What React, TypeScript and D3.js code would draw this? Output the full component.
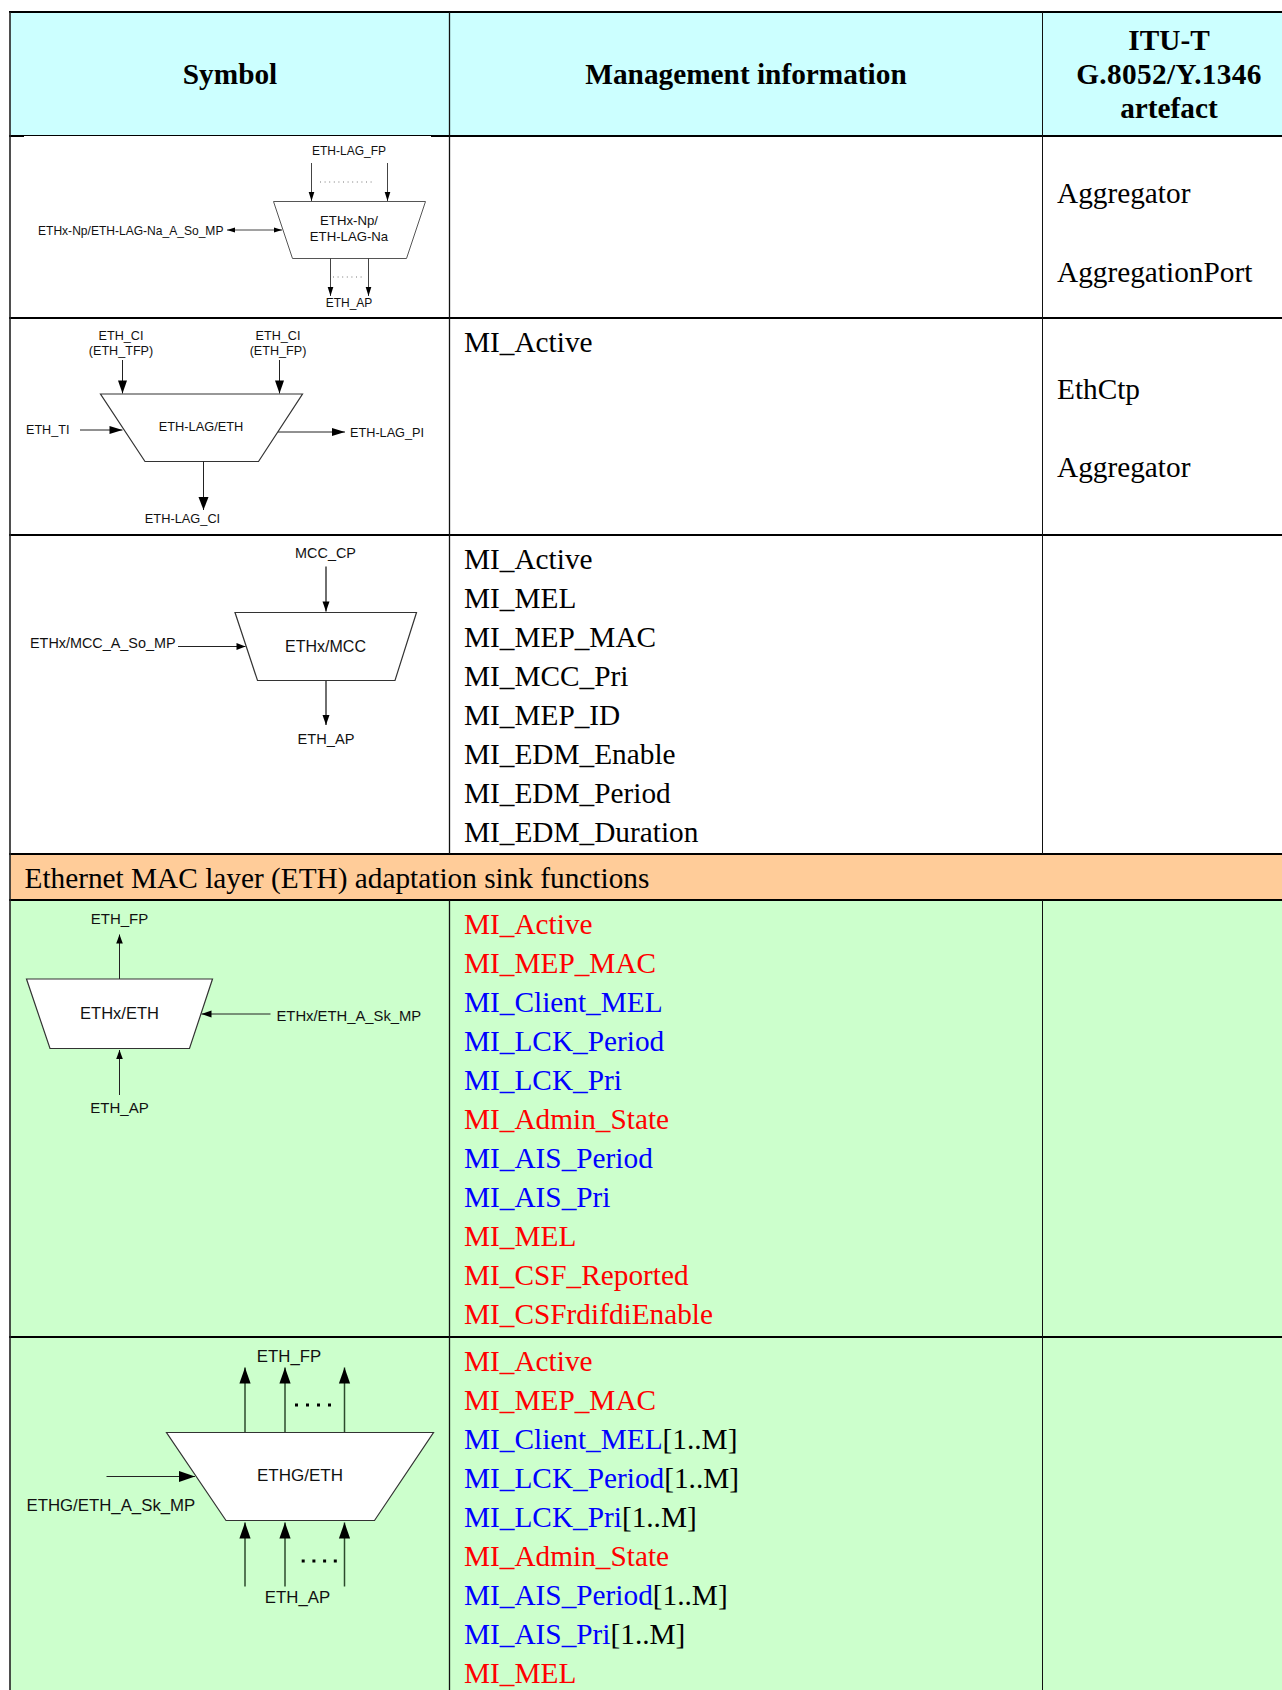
import React, { useEffect, useRef } from 'react';
import * as d3 from 'd3';

// Table content
const headerSymbol = 'Symbol';
const headerInfo = 'Management information';
const headerArtefact = ['ITU-T', 'G.8052/Y.1346', 'artefact'];
const lagArtefacts = ['Aggregator', 'AggregationPort'];
const ethLagArtefacts = ['EthCtp', 'Aggregator'];
const ethLagInfo = ['MI_Active'];
const mccInfo = ['MI_Active', 'MI_MEL', 'MI_MEP_MAC', 'MI_MCC_Pri', 'MI_MEP_ID', 'MI_EDM_Enable', 'MI_EDM_Period', 'MI_EDM_Duration'];
const sinkBand = 'Ethernet MAC layer (ETH) adaptation sink functions';
const ethxInfo = ['MI_Active', 'MI_MEP_MAC', 'MI_Client_MEL', 'MI_LCK_Period', 'MI_LCK_Pri', 'MI_Admin_State', 'MI_AIS_Period', 'MI_AIS_Pri', 'MI_MEL', 'MI_CSF_Reported', 'MI_CSFrdifdiEnable'];
const ethxKinds = ['a', 'a', 'b', 'b', 'b', 'a', 'b', 'b', 'a', 'a', 'a'];
const ethgInfo = ['MI_Active', 'MI_MEP_MAC', 'MI_Client_MEL', 'MI_LCK_Period', 'MI_LCK_Pri', 'MI_Admin_State', 'MI_AIS_Period', 'MI_AIS_Pri', 'MI_MEL'];
const ethgKinds = ['a', 'a', 'b', 'b', 'b', 'a', 'b', 'b', 'a'];
const ethgSuffix = ['', '', '[1..M]', '[1..M]', '[1..M]', '', '[1..M]', '[1..M]', ''];

const WIDTH = 1282;
const HEIGHT = 1690;
const SERIF = '"Liberation Serif", serif';
const SANS = '"Liberation Sans", Arial, sans-serif';

type Sel = d3.Selection<SVGGElement, unknown, null, undefined>;
type Pt = [number, number];

const path = d3.line();

function arrow(g: Sel, from: Pt, to: Pt, len: number, half: number, color = '#222', width = 1, both = false) {
  g.append('path').attr('d', path([from, to])).attr('stroke', color).attr('stroke-width', width).attr('fill', 'none');
  const head = (a: Pt, b: Pt) => {
    const d = Math.hypot(b[0] - a[0], b[1] - a[1]);
    const ux = (b[0] - a[0]) / d;
    const uy = (b[1] - a[1]) / d;
    const bx = b[0] - ux * len;
    const by = b[1] - uy * len;
    g.append('path')
      .attr('d', path([b, [bx - uy * half, by + ux * half], [bx + uy * half, by - ux * half]])! + 'Z')
      .attr('fill', '#000');
  };
  head(from, to);
  if (both) head(to, from);
}

function trapezoid(g: Sel, top: [number, number], bottom: [number, number], y0: number, y1: number, color = '#333', width = 1.2) {
  const pts: Pt[] = [[top[0], y0], [top[1], y0], [bottom[1], y1], [bottom[0], y1]];
  g.append('path')
    .attr('d', path(pts)! + 'Z')
    .attr('fill', '#fff')
    .attr('stroke', color)
    .attr('stroke-width', width);
}

function label(g: Sel, text: string, x: number, y: number, size: number, anchor = 'middle', color = '#111') {
  g.append('text')
    .attr('x', x)
    .attr('y', y)
    .attr('text-anchor', anchor)
    .attr('font-family', SANS)
    .attr('font-size', size)
    .attr('fill', color)
    .text(text);
}

function serif(g: Sel, text: string, x: number, y: number, anchor = 'start', bold = false, color = '#000') {
  return g.append('text')
    .attr('x', x)
    .attr('y', y)
    .attr('text-anchor', anchor)
    .attr('font-family', SERIF)
    .attr('font-size', 29.3)
    .attr('font-weight', bold ? 700 : 400)
    .attr('fill', color)
    .text(text);
}

function infoList(g: Sel, names: string[], first: number, kinds?: string[], suffix?: string[]) {
  const y = d3.scaleLinear().domain([0, 1]).range([first, first + 39]);
  const colour = d3.scaleOrdinal<string>().domain(['a', 'b']).range(['#ff0000', '#0000ff']);
  names.forEach((name, i) => {
    const t = serif(g, name, 464, y(i), 'start', false, kinds ? colour(kinds[i]) : '#000');
    if (suffix && suffix[i]) t.append('tspan').attr('fill', '#000').text(suffix[i]);
  });
}

function lagSymbol(g: Sel) {
  label(g, 'ETH-LAG_FP', 349, 155, 12);
  arrow(g, [311.5, 163], [311.5, 201], 9, 2.8, '#444');
  arrow(g, [387.5, 163], [387.5, 201], 9, 2.8, '#444');
  g.append('path').attr('d', path([[320, 182], [375, 182]])).attr('stroke', '#777').attr('stroke-dasharray', '1 3.6').attr('fill', 'none');
  trapezoid(g, [273.5, 425.5], [292.5, 406.5], 201.5, 258.5, '#555', 1);
  label(g, 'ETHx-Np/', 349, 225, 13.2);
  label(g, 'ETH-LAG-Na', 349, 241, 13.2);
  label(g, 'ETHx-Np/ETH-LAG-Na_A_So_MP', 38, 235, 12.05, 'start');
  arrow(g, [227, 230], [282, 230], 8, 2.5, '#444', 1, true);
  arrow(g, [330.5, 258], [330.5, 296], 9, 2.8, '#444');
  arrow(g, [368.5, 258], [368.5, 296], 9, 2.8, '#444');
  g.append('path').attr('d', path([[333, 277], [364, 277]])).attr('stroke', '#777').attr('stroke-dasharray', '1 3.6').attr('fill', 'none');
  label(g, 'ETH_AP', 349, 307, 12);
}

function ethLagSymbol(g: Sel) {
  label(g, 'ETH_CI', 121, 339.5, 12.6);
  label(g, '(ETH_TFP)', 121, 354.5, 12.6);
  label(g, 'ETH_CI', 278, 339.5, 12.6);
  label(g, '(ETH_FP)', 278, 354.5, 12.6);
  arrow(g, [122.5, 360], [122.5, 393.5], 13, 4.5);
  arrow(g, [279.5, 360], [279.5, 393.5], 13, 4.5);
  trapezoid(g, [100.5, 302.5], [145, 258.5], 394, 461.5);
  label(g, 'ETH-LAG/ETH', 201, 430.5, 12.8);
  label(g, 'ETH_TI', 26, 434, 12.6, 'start');
  arrow(g, [80, 430], [122.5, 430], 13, 4);
  arrow(g, [278, 432], [345, 432], 13, 4);
  label(g, 'ETH-LAG_PI', 350, 436.5, 12.7, 'start');
  arrow(g, [203.5, 461.5], [203.5, 510], 13, 5);
  label(g, 'ETH-LAG_CI', 182.5, 522.5, 12.8);
}

function mccSymbol(g: Sel) {
  label(g, 'MCC_CP', 325.5, 558, 14.4);
  arrow(g, [326, 566.5], [326, 611.5], 10, 3.5, '#333', 1.4);
  trapezoid(g, [235, 416.5], [257.5, 395], 612.5, 680.5);
  label(g, 'ETHx/MCC', 325.5, 652, 16);
  label(g, 'ETHx/MCC_A_So_MP', 30, 647.5, 14.4, 'start');
  arrow(g, [178, 646.5], [245.5, 646.5], 9, 3.5);
  arrow(g, [326, 680.5], [326, 725], 10, 3.5, '#333', 1.4);
  label(g, 'ETH_AP', 326, 744, 14.6);
}

function ethxSymbol(g: Sel) {
  label(g, 'ETH_FP', 119.5, 923.5, 15);
  arrow(g, [119.5, 979], [119.5, 934.5], 9, 3.3);
  trapezoid(g, [26.5, 212.5], [50, 189.5], 979, 1048.5);
  label(g, 'ETHx/ETH', 119.5, 1019, 16.5);
  arrow(g, [270.5, 1014], [201.5, 1014], 10, 3.5);
  label(g, 'ETHx/ETH_A_Sk_MP', 276.5, 1020.5, 14.8, 'start');
  arrow(g, [119.5, 1095], [119.5, 1050], 9, 3.3);
  label(g, 'ETH_AP', 119.5, 1113, 15);
}

function ethgSymbol(g: Sel) {
  [245, 285, 344.5].forEach(x => {
    arrow(g, [x, 1432], [x, 1367.5], 16, 5.6, '#2d4a2d', 1.5);
    arrow(g, [x, 1586.5], [x, 1522.5], 16, 5.6, '#2d4a2d', 1.5);
  });
  label(g, 'ETH_FP', 289, 1362, 16.8);
  g.append('path').attr('d', path([[295, 1405], [331, 1405]])).attr('stroke', '#000').attr('stroke-width', 3).attr('stroke-dasharray', '3 8').attr('fill', 'none');
  trapezoid(g, [166.5, 433.5], [226, 374.5], 1432.5, 1520.5);
  label(g, 'ETHG/ETH', 300, 1481, 17);
  arrow(g, [106.5, 1476.5], [195, 1476.5], 16, 5.4);
  label(g, 'ETHG/ETH_A_Sk_MP', 26.5, 1511, 16.8, 'start');
  g.append('path').attr('d', path([[301.7, 1561], [337, 1561]])).attr('stroke', '#000').attr('stroke-width', 3).attr('stroke-dasharray', '3 7.7').attr('fill', 'none');
  label(g, 'ETH_AP', 297.5, 1603, 16.8);
}

export default function App() {
  const svgRef = useRef<SVGSVGElement>(null);

  useEffect(() => {
    if (!svgRef.current) return;
    const svg = d3.select(svgRef.current);
    svg.selectAll('*').remove();
    const g = svg.append('g') as unknown as Sel;

    // Cell backgrounds
    const fills: [number, number, string][] = [
      [12, 136, '#ccffff'],
      [136, 854, '#ffffff'],
      [854, 900, '#ffcc99'],
      [900, HEIGHT, '#ccffcc'],
    ];
    fills.forEach(([y0, y1, fill]) => {
      g.append('rect').attr('x', 10).attr('y', y0).attr('width', WIDTH - 10).attr('height', y1 - y0).attr('fill', fill);
    });

    // Grid
    const rules = [12, 136, 318, 535, 854, 900, 1337];
    rules.forEach(y => {
      g.append('line').attr('x1', 9).attr('x2', WIDTH).attr('y1', y).attr('y2', y)
        .attr('stroke', '#000').attr('stroke-width', 1.8);
    });
    g.append('line').attr('x1', 10).attr('x2', 10).attr('y1', 12).attr('y2', HEIGHT).attr('stroke', '#222').attr('stroke-width', 1.6);
    [[449.5, 1.3], [1042.5, 1]].forEach(([x, w]) => {
      [[12, 854], [900, HEIGHT]].forEach(([y0, y1]) => {
        g.append('line').attr('x1', x).attr('x2', x).attr('y1', y0).attr('y2', y1).attr('stroke', '#111').attr('stroke-width', w);
      });
    });
    // the pasted symbol image clips the rule under the header a little
    g.append('rect').attr('x', 24).attr('y', 136).attr('width', 407).attr('height', 1).attr('fill', '#fff');

    // Header
    serif(g, headerSymbol, 230, 84, 'middle', true);
    serif(g, headerInfo, 746, 84, 'middle', true);
    headerArtefact.forEach((t, i) => {
      const line = serif(g, t, 1169, 50 + i * 34, 'middle', true);
      if (i === 1) line.attr('letter-spacing', 0.33);
    });

    // Artefact column
    lagArtefacts.forEach((t, i) => serif(g, t, 1057, 203 + i * 78.5));
    ethLagArtefacts.forEach((t, i) => serif(g, t, 1057, 399 + i * 77.5));

    // Management information column
    infoList(g, ethLagInfo, 352);
    infoList(g, mccInfo, 569);
    serif(g, sinkBand, 24.5, 888);
    infoList(g, ethxInfo, 934, ethxKinds);
    infoList(g, ethgInfo, 1371, ethgKinds, ethgSuffix);

    // Symbols
    lagSymbol(g);
    ethLagSymbol(g);
    mccSymbol(g);
    ethxSymbol(g);
    ethgSymbol(g);
  }, []);

  return (
    <svg
      ref={svgRef}
      width={WIDTH}
      height={HEIGHT}
      style={{ position: 'absolute', left: 0, top: 0, display: 'block', background: '#fff' }}
    />
  );
}
